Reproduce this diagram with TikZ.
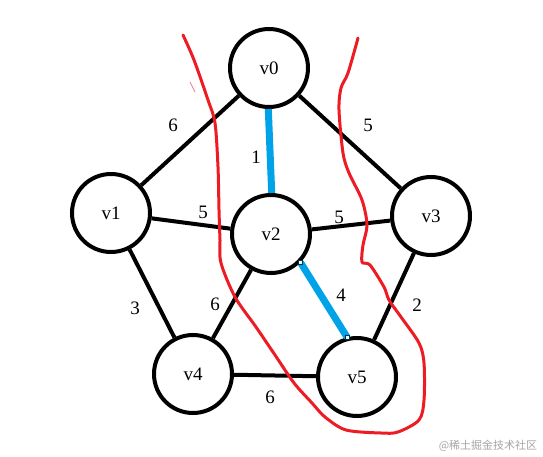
\documentclass[tikz,border=0pt]{standalone}
\usepackage{fontspec}
\setmainfont{Liberation Serif}
\newfontfamily\cjk{Noto Sans CJK SC}
\definecolor{paintblue}{HTML}{00A2E8}
\definecolor{paintred}{HTML}{ED1C24}
\begin{document}
\begin{tikzpicture}[x=1pt,y=-1pt,
  vtx/.style={circle,draw=black,line width=4pt,fill=white,minimum size=78pt,inner sep=0pt,font=\fontsize{19}{20}\selectfont},
  edgeline/.style={line width=4pt,black},
  chosen/.style={line width=7pt,paintblue},
  wlabel/.style={font=\fontsize{19}{20}\selectfont,inner sep=0pt},
  endmark/.style={draw=black!70!paintblue,fill=white,line width=0.8pt,minimum size=4pt,inner sep=0pt,rectangle},
  cutline/.style={line width=3pt,paintred,line cap=round,line join=round}
]
\useasboundingbox (0,0) rectangle (543,457);
\fill[white] (0,0) rectangle (543,457);

\node[vtx] (v0) at (269,68) {v0};
\node[vtx] (v1) at (111,213) {v1};
\node[vtx] (v2) at (271,234) {v2};
\node[vtx] (v3) at (431,216) {v3};
\node[vtx] (v4) at (193,374) {v4};
\node[vtx] (v5) at (357,377) {v5};

\draw[edgeline] (v0) -- (v1);
\draw[edgeline] (v0) -- (v3);
\draw[edgeline] (v1) -- (v2);
\draw[edgeline] (v2) -- (v3);
\draw[edgeline] (v1) -- (v4);
\draw[edgeline] (v2) -- (v4);
\draw[edgeline] (v3) -- (v5);
\draw[edgeline] (v4) -- (v5);
\draw[chosen] (v0.-91) -- (v2.89);
\draw[chosen] (v2.-44) -- (v5.104);
\node[endmark] (m1) at (v2.-44) {};
\node[endmark] (m2) at (v5.104) {};

\node[wlabel] (l01) at (173,125) {6};
\node[wlabel] (l03) at (368,125) {5};
\node[wlabel] (l02) at (256,157) {1};
\node[wlabel] (l12) at (203,212) {5};
\node[wlabel] (l23) at (339,217) {5};
\node[wlabel] (l14) at (135,308) {3};
\node[wlabel] (l24) at (215,304) {6};
\node[wlabel] (l25) at (341,295) {4};
\node[wlabel] (l35) at (417,305) {2};
\node[wlabel] (l45) at (270,397) {6};

\draw[cutline] plot[smooth,tension=0.5] coordinates {
(183,35) (194,60) (208,100) (215,123) (218,167) (219,210) (220,240) (221,263)
(235,297) (256,327) (275,355) (294,383) (312,403) (325,417) (346,430) (381,433)
(398,432) (419,420) (424,400) (424,363) (419,343) (401,317) (389,300) (384,287)
(370,265) (362,262) (363,245) (367,225) (362,200) (349,173) (343,153) (339,110)
(341,88) (348,73) (358,38)};
\draw[paintred!60,line width=0.8pt] (190,82) -- (195,92);

\node[font=\cjk\fontsize{11}{11}\selectfont,text=black!35,inner sep=0pt] (wm) at (488,446) {@稀土掘金技术社区};
\end{tikzpicture}
\end{document}
